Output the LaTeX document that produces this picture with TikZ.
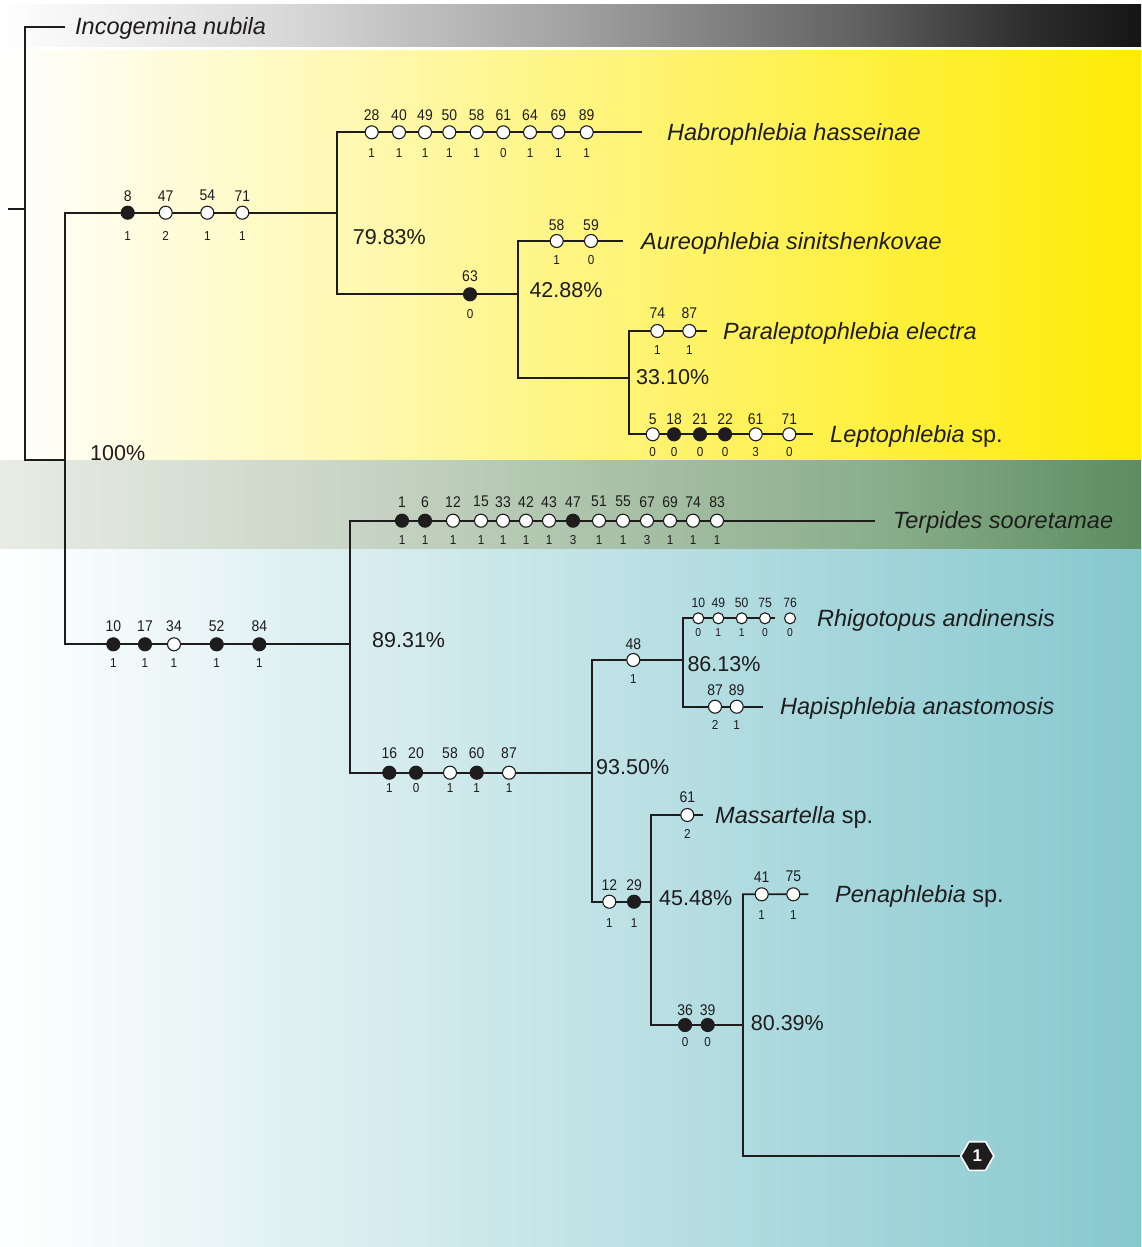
\documentclass[tikz,border=0pt]{standalone}
\usepackage{fontspec}
\setmainfont{Liberation Sans}
\newfontfamily\numfont[FakeStretch=0.9]{Liberation Sans}
\usetikzlibrary{shapes.geometric}

\definecolor{ink}{HTML}{1E1C1D}
\definecolor{ylw}{HTML}{FFEB05}
\definecolor{sea}{HTML}{86C8CF}
\definecolor{gA}{HTML}{D8D8D8}
\definecolor{gB}{HTML}{A2A2A2}
\definecolor{gC}{HTML}{626262}
\definecolor{gD}{HTML}{2E2E2E}
\definecolor{gE}{HTML}{151515}
\definecolor{fA}{HTML}{E8ECE5}
\definecolor{fB}{HTML}{C6D3C2}
\definecolor{fC}{HTML}{8AAE8B}
\definecolor{fD}{HTML}{5C8D60}

% horizontal shadings: the path spans 25bp..75bp
\pgfdeclarehorizontalshading{greyband}{100bp}{color(0bp)=(white); color(25bp)=(white);
  color(37.5bp)=(gA); color(50bp)=(gB); color(62.5bp)=(gC); color(70bp)=(gD);
  color(75bp)=(gE); color(100bp)=(gE)}
\pgfdeclarehorizontalshading{greenband}{100bp}{color(0bp)=(fA); color(25bp)=(fA);
  color(41.5bp)=(fB); color(63.5bp)=(fC); color(75bp)=(fD); color(100bp)=(fD)}

% one row of character marks on a branch:
% #1 prefix, #2 branch y, #3 number offset, #4 state offset, #5 x/number/state/kind
\newcommand\charrow[5]{%
  \foreach \cx/\cn/\cs/\ct [count=\ci] in {#5}{%
    \node[\ct] (#1-\ci) at (\cx,#2) {};
    \node[numlab] (#1-\ci-n) at (\cx,#2-#3) {\cn};
    \node[stlab] (#1-\ci-s) at (\cx,#2+#4) {\cs};
  }}

\begin{document}
\begin{tikzpicture}[x=1pt,y=-1pt,
  branch/.style={line width=1.7pt, draw=ink, line join=miter},
  apo/.style={circle, draw=ink, fill=white, line width=1.1pt, minimum size=13pt, inner sep=0pt},
  syn/.style={circle, draw=ink, fill=ink, line width=1.1pt, minimum size=13pt, inner sep=0pt},
  numlab/.style={inner sep=0pt, text=ink, font=\numfont\fontsize{15.5}{17}\selectfont},
  stlab/.style={inner sep=0pt, text=ink, font=\numfont\fontsize{13}{14}\selectfont},
  taxon/.style={anchor=base west, inner sep=0pt, text=ink, font=\fontsize{23.5}{26}\selectfont\itshape},
  support/.style={anchor=base west, inner sep=0pt, text=ink, font=\fontsize{21.5}{24}\selectfont},
]
\useasboundingbox (0,0) rectangle (1141,1247);

% background bands
\fill[white] (0,0) rectangle (1141,1247);
\shade[shading=greyband] (0,5) rectangle (1141,47);
\shade[left color=white, right color=ylw] (0,51) rectangle (1141,460);
\shade[shading=greenband] (0,460) rectangle (1141,549);
\shade[left color=white, right color=sea] (0,549) rectangle (1141,1247);

% tree junctions and branch ends
\coordinate (rs) at (8,209);     \coordinate (rv) at (25,209);
\coordinate (n0t) at (25,27);    \coordinate (n0b) at (25,460);
\coordinate (tInco) at (65,27);
\coordinate (n1m) at (65,460);
\coordinate (n1t) at (65,212.7); \coordinate (n1b) at (65,644.3);
\coordinate (n2m) at (337,212.7);
\coordinate (n2t) at (337,132.3); \coordinate (n2b) at (337,294.3);
\coordinate (tHab) at (641.7,132.3);
\coordinate (n3m) at (518,294.3);
\coordinate (n3t) at (518,241);  \coordinate (n3b) at (518,378.3);
\coordinate (tAur) at (622.7,241);
\coordinate (n4m) at (629,378.3);
\coordinate (n4t) at (629,331);  \coordinate (n4b) at (629,434.3);
\coordinate (tPar) at (706.7,331); \coordinate (tLep) at (813.3,434.3);
\coordinate (n5m) at (350,644.3);
\coordinate (n5t) at (350,520.7); \coordinate (n5b) at (350,772.7);
\coordinate (tTer) at (875,520.7);
\coordinate (n6m) at (592,772.7);
\coordinate (n6t) at (592,660);  \coordinate (n6b) at (592,901.7);
\coordinate (n7m) at (683,660);
\coordinate (n7t) at (683,618.3); \coordinate (n7b) at (683,706.7);
\coordinate (tRhi) at (775,618.3); \coordinate (tHap) at (763.3,706.7);
\coordinate (n8m) at (651,901.7);
\coordinate (n8t) at (651,815);  \coordinate (n8b) at (651,1025);
\coordinate (tMas) at (703.3,815);
\coordinate (n9m) at (743,1025);
\coordinate (n9t) at (743,894.3); \coordinate (n9b) at (743,1156);
\coordinate (tPen) at (808.3,894.3);

\node[regular polygon, regular polygon sides=6, minimum size=33pt, inner sep=0pt,
      fill=ink, draw=white, line width=1.6pt, text=white,
      font=\bfseries\fontsize{17}{18}\selectfont] (hex) at (977.3,1156) {1};

% branches
\draw[branch] (rs) -- (rv);
\draw[branch] (tInco) -- (n0t) -- (n0b) -- (n1m);
\draw[branch] (n2m) -- (n1t) -- (n1b) -- (n5m);
\draw[branch] (tHab) -- (n2t) -- (n2b) -- (n3m);
\draw[branch] (tAur) -- (n3t) -- (n3b) -- (n4m);
\draw[branch] (tPar) -- (n4t) -- (n4b) -- (tLep);
\draw[branch] (tTer) -- (n5t) -- (n5b) -- (n6m);
\draw[branch] (n7m) -- (n6t) -- (n6b) -- (n8m);
\draw[branch] (tRhi) -- (n7t) -- (n7b) -- (tHap);
\draw[branch] (tMas) -- (n8t) -- (n8b) -- (n9m);
\draw[branch] (tPen) -- (n9t) -- (n9b) -- (hex);

% character changes
\charrow{A}{212.7}{17}{23}{127.7/8/1/syn, 165.7/47/2/apo, 207.3/54/1/apo, 242.3/71/1/apo}
\charrow{B}{132.3}{17.3}{20.4}{371.7/28/1/apo, 399/40/1/apo, 425/49/1/apo, 449.3/50/1/apo,
  476.7/58/1/apo, 503.3/61/0/apo, 530/64/1/apo, 558.3/69/1/apo, 586.7/89/1/apo}
\charrow{C}{294.3}{18.3}{19.7}{470/63/0/syn}
\charrow{D}{241}{16}{19}{556.7/58/1/apo, 591/59/0/apo}
\charrow{E}{331}{18}{19}{657.3/74/1/apo, 689.3/87/1/apo}
\charrow{F}{434.3}{15.3}{17.4}{652.7/5/0/apo, 674/18/0/syn, 700/21/0/syn, 725/22/0/syn,
  755.7/61/3/apo, 789.3/71/0/apo}
\charrow{G}{644.3}{18.3}{18.4}{113.3/10/1/syn, 145/17/1/syn, 174/34/1/apo, 216.7/52/1/syn,
  259.3/84/1/syn}
\charrow{H}{520.7}{19}{19.3}{402/1/1/syn, 425/6/1/syn, 453/12/1/apo, 481/15/1/apo,
  503/33/1/apo, 526/42/1/apo, 549/43/1/apo, 573/47/3/syn, 599/51/1/apo, 623/55/1/apo,
  647/67/3/apo, 670/69/1/apo, 693/74/1/apo, 717/83/1/apo}
\charrow{I}{772.7}{19.4}{15.6}{389.3/16/1/syn, 416/20/0/syn, 450/58/1/apo, 476.7/60/1/syn,
  509/87/1/apo}
\charrow{J}{660}{16}{19}{633.3/48/1/apo}
\begin{scope}[apo/.append style={minimum size=11pt},
  numlab/.append style={font=\numfont\fontsize{13.5}{15}\selectfont},
  stlab/.append style={font=\numfont\fontsize{11.5}{13}\selectfont}]
\charrow{K}{618.3}{15}{14.4}{698.3/10/0/apo, 718.3/49/1/apo, 741.7/50/1/apo, 765/75/0/apo,
  790/76/0/apo}
\end{scope}
\charrow{L}{706.7}{16.7}{18.3}{715/87/2/apo, 736.7/89/1/apo}
\charrow{M}{815}{17.7}{19.3}{687.3/61/2/apo}
\charrow{N}{901.7}{16.7}{21}{609.3/12/1/apo, 634/29/1/syn}
\charrow{O}{894.3}{17.6}{20.7}{761.7/41/1/apo, 793.3/75/1/apo}
\charrow{P}{1025}{15}{16.7}{685/36/0/syn, 707.7/39/0/syn}

% taxon names
\node[taxon] (inco) at (75,35) {Incogemina nubila};
\node[taxon] (hab) at (667,140.3) {Habrophlebia hasseinae};
\node[taxon] (aur) at (641,249) {Aureophlebia sinitshenkovae};
\node[taxon] (par) at (723,339) {Paraleptophlebia electra};
\node[taxon] (lep) at (830,442.3) {Leptophlebia\/ \upshape sp.};
\node[taxon] (ter) at (893,528.7) {Terpides sooretamae};
\node[taxon] (rhi) at (817,626.3) {Rhigotopus andinensis};
\node[taxon] (hap) at (780,714.7) {Hapisphlebia anastomosis};
\node[taxon] (mas) at (715,823) {Massartella\/ \upshape sp.};
\node[taxon] (pen) at (835,902.3) {Penaphlebia\/ \upshape sp.};

% support values
\node[support] (s100) at (90,460.7) {100\%};
\node[support] (s7983) at (352.7,244.4) {79.83\%};
\node[support] (s4288) at (529.3,297.7) {42.88\%};
\node[support] (s3310) at (636,384.4) {33.10\%};
\node[support] (s8931) at (372,647.7) {89.31\%};
\node[support] (s8613) at (687.3,671.7) {86.13\%};
\node[support] (s9350) at (596,774.7) {93.50\%};
\node[support] (s4548) at (659,905.7) {45.48\%};
\node[support] (s8039) at (750.7,1030) {80.39\%};
\end{tikzpicture}
\end{document}
